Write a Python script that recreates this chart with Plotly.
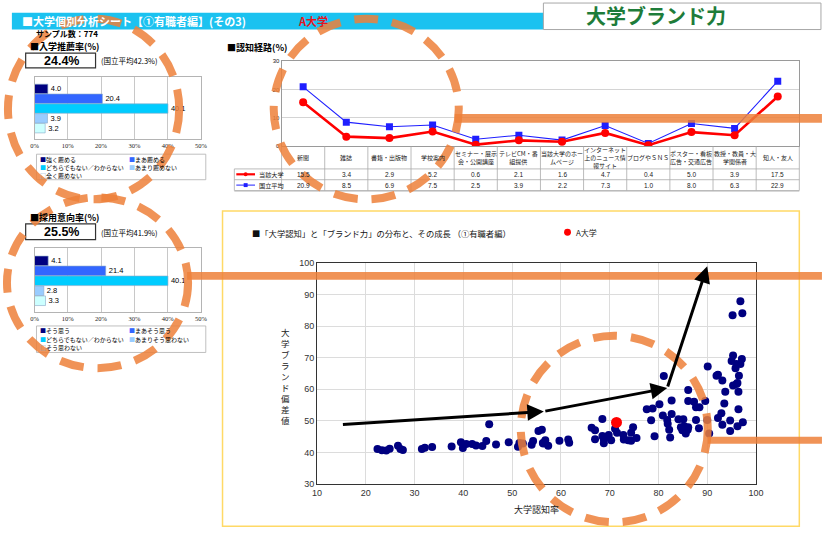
import plotly.graph_objects as go

W, H = 827, 541
def px(x): return x / W
def py(y): return 1 - y / H

FONT = "Noto Sans CJK JP"

# ---------------- data ----------------
rec_labels = ["強く薦める", "まあ薦める", "どちらでもない／わからない", "あまり薦めない", "全く薦めない"]
rec_values = [4.0, 20.4, 40.1, 3.9, 3.2]
rec_rate = "24.4%"
rec_avg = "(国立平均42.3%)"

hire_labels = ["そう思う", "まあそう思う", "どちらでもない／わからない", "あまりそう思わない", "そう思わない"]
hire_values = [4.1, 21.4, 40.1, 2.8, 3.3]
hire_rate = "25.5%"
hire_avg = "(国立平均41.9%)"

bar_pct_ticks = [0, 10, 20, 30, 40, 50]
bar_colors = ["#000080", "#3366FF", "#00CCFF", "#99CCFF", "#CCFFFF"]

route_categories = ["新聞", "雑誌", "書籍・出版物", "学校案内", "セミナー・展示<br>会・公開講座",
                    "テレビCM・番<br>組提供", "当該大学のホー<br>ムページ", "インターネット<br>上のニュース情<br>報サイト",
                    "ブログやＳＮＳ", "ポスター・看板<br>広告・交通広告", "教授・教員・大<br>学関係者", "知人・友人"]
route_univ = [15.5, 3.4, 2.9, 5.2, 0.6, 2.1, 1.6, 4.7, 0.4, 5.0, 3.9, 17.5]
route_avg = [20.9, 8.5, 6.9, 7.5, 2.5, 3.9, 2.2, 7.3, 1.0, 8.0, 6.3, 22.9]
route_series = ["当該大学", "国立平均"]

scatter_pts = [
    (22.4, 41.1), (23.3, 40.7), (24.2, 40.6), (24.9, 41.2), (26.6, 42.1), (27.1, 41.1), (27.6, 40.8),
    (31.5, 41.1), (32.1, 41.5), (33.6, 41.7), (37.6, 41.9), (39.5, 43.2), (39.9, 41.4), (40.6, 42.7),
    (41.8, 42.7), (42.6, 42.2), (43.9, 42.0), (44.7, 43.6), (45.3, 48.9), (46.7, 42.5), (49.3, 43.2),
    (51.2, 41.8), (51.5, 43.0), (52.2, 42.8), (54.0, 42.4), (54.3, 43.6), (55.4, 46.8), (56.1, 47.2),
    (56.4, 42.8), (56.8, 43.9), (56.3, 43.0), (57.4, 42.1), (59.7, 43.7), (61.5, 44.1), (61.7, 43.1),
    (66.3, 47.8), (67.0, 47.0), (67.0, 44.2), (68.5, 50.6), (68.5, 45.2), (68.8, 44.1), (68.8, 42.9),
    (69.1, 44.9), (69.8, 45.5), (70.3, 43.9), (71.1, 47.5), (71.5, 46.2), (72.8, 45.5), (72.9, 44.1),
    (73.8, 43.9), (74.4, 46.2), (74.8, 48.0), (74.4, 43.7), (75.5, 44.6), (77.6, 53.7), (78.8, 53.9),
    (78.5, 50.2), (79.2, 45.1), (80.2, 55.3), (81.1, 64.2), (80.9, 51.7), (81.8, 50.3), (81.9, 49.1),
    (82.2, 47.2), (82.4, 44.7), (82.7, 56.5), (82.7, 52.2), (84.1, 50.5), (85.1, 50.5), (84.6, 48.0),
    (84.9, 47.0), (85.3, 48.3), (85.6, 46.0), (86.0, 47.2), (86.1, 48.0), (86.1, 59.8), (86.1, 56.3),
    (87.3, 56.1), (87.7, 54.3), (87.7, 50.3), (88.3, 47.7), (88.4, 54.3), (89.6, 56.3), (90.0, 50.3),
    (90.4, 46.0), (90.1, 67.2), (91.9, 64.3), (92.2, 64.6), (93.1, 62.8), (93.7, 59.2), (93.5, 55.5),
    (92.9, 52.4), (92.2, 50.9), (93.1, 48.8), (94.7, 50.1), (94.7, 46.8), (95.2, 83.5), (96.8, 87.9),
    (97.2, 84.1), (95.3, 70.7), (95.0, 69.0), (95.8, 66.7), (97.1, 69.6), (96.8, 68.0), (96.5, 64.3),
    (96.0, 61.7), (95.3, 61.2), (96.4, 59.2), (96.4, 53.7), (96.2, 48.3), (97.3, 49.6), (96.2, 62.0),
    (96.0, 68.0),
]
scatter_x = [p[0] for p in scatter_pts]
scatter_y = [p[1] for p in scatter_pts]
a_univ_x = [71.4]
a_univ_y = [49.5]
growth_x = [15, 56.5, 81.8, 90.0]
growth_y = [48.8, 53.0, 60.4, 99.0]

# ---------------- figure ----------------
fig = go.Figure()
shapes = []
ann = []

def txt(x, y, s, size=8, color="#000", xanchor="left", yanchor="middle", xref="paper", yref="paper", bold=False, family=FONT):
    ann.append(dict(x=x, y=y, xref=xref, yref=yref, text=("<b>%s</b>" % s) if bold else s,
                    showarrow=False, xanchor=xanchor, yanchor=yanchor,
                    font=dict(size=size, color=color, family=family)))

def rect(x0, y0, x1, y1, line="#999", width=1, fill=None, dash=None):
    d = dict(type="rect", xref="paper", yref="paper", x0=px(x0), x1=px(x1), y0=py(y0), y1=py(y1),
             line=dict(color=line, width=width))
    if fill: d["fillcolor"] = fill
    if dash: d["line"]["dash"] = dash
    shapes.append(d)

def hline(x0, x1, y, color="#aaa", width=0.8):
    shapes.append(dict(type="line", xref="paper", yref="paper", x0=px(x0), x1=px(x1), y0=py(y), y1=py(y),
                       line=dict(color=color, width=width)))

def vline(x, y0, y1, color="#aaa", width=0.8):
    shapes.append(dict(type="line", xref="paper", yref="paper", x0=px(x), x1=px(x), y0=py(y0), y1=py(y1),
                       line=dict(color=color, width=width)))

# header
rect(7, 8, 548, 25, line="rgba(0,0,0,0)", width=0, fill="#1BC2F0")
txt(px(15), py(16.5), "■大学個別分析シート【①有職者編】(その3)", size=11, color="#fff", bold=True)
txt(px(313), py(16.5), "A大学", size=11, color="#E8141C", xanchor="center", bold=True)
rect(547, -2, 829, 25, line="#a8a8a8", width=1, fill="#fff")
txt(px(661), py(11), "大学ブランド力", size=20, color="#1E7C3A", xanchor="center", bold=True)

txt(px(29), py(29.5), "サンプル数：774", size=8, bold=True)

# ---- bar charts ----
def bar_block(values, labels, rate, avg, axis_id, title, title_y, box_y0, box_y1, plot_y0, plot_y1, leg_y0, leg_y1):
    xa = "x" if axis_id == 1 else "x%d" % axis_id
    ya = "y" if axis_id == 1 else "y%d" % axis_id
    fig.add_trace(go.Bar(
        x=values, y=list(range(len(values))), orientation="h", xaxis=xa, yaxis=ya,
        marker=dict(color=bar_colors, line=dict(color="#8aaac8", width=0.6)),
        text=["%.1f" % v for v in values], textposition="outside", cliponaxis=False,
        textfont=dict(size=7.5, color="#000", family="Liberation Sans"), width=0.96))
    ax_layout = dict(domain=[px(30), px(199)], range=[0, 50], tickvals=bar_pct_ticks,
                     ticktext=["%d%%" % t for t in bar_pct_ticks], showgrid=True, gridcolor="#c8c8c8",
                     gridwidth=1, showline=True, mirror=True, linecolor="#b4b4b4", zeroline=False, ticks="",
                     tickfont=dict(size=6.5, family="Liberation Serif", color="#222"), anchor=ya)
    ay_layout = dict(domain=[py(plot_y1), py(plot_y0)], range=[5.15, -1.25], showticklabels=False, showgrid=False,
                     showline=True, mirror=True, linecolor="#b4b4b4", zeroline=False, anchor=xa)
    key = "" if axis_id == 1 else str(axis_id)
    fig.update_layout(**{"xaxis" + key: ax_layout, "yaxis" + key: ay_layout})
    txt(px(23), py(title_y), "■" + title, size=9, bold=True)
    rect(21, box_y0, 92, box_y1, line="#333", width=1.2, fill="#fff")
    txt(px(57), py((box_y0 + box_y1) / 2 + 0.5), rate, size=12.5, xanchor="center", bold=True, family="Liberation Sans")
    txt(px(96), py((box_y0 + box_y1) / 2 + 0.5), avg, size=7.5)
    # legend box
    rect(32, leg_y0, 204, leg_y1, line="#b0b0b0", width=0.8, fill="rgba(255,255,255,0)")
    rows = [leg_y0 + 5, leg_y0 + 13.5, leg_y0 + 22]
    cols = [34, 124]
    for i, lab in enumerate(labels):
        r, c = divmod(i, 2)
        mark = "□" if i == 4 else "■"
        mcol = "#7fa6c6" if i == 4 else bar_colors[i]
        txt(px(cols[c]), py(rows[r]), "<span style='color:%s'>%s</span>%s" % (mcol, mark, lab), size=6)

bar_block(rec_values, rec_labels, rec_rate, rec_avg, 1, "入学推薦率(%)", 42.5, 49, 64, 73, 137, 152, 178)
bar_block(hire_values, hire_labels, hire_rate, hire_avg, 2, "採用意向率(%)", 217, 223, 239, 248, 313, 327, 354)

# ---- line chart ----
xi = list(range(len(route_categories)))
fig.add_trace(go.Scatter(x=xi, y=route_avg, mode="lines+markers", xaxis="x3", yaxis="y3",
                         line=dict(color="#1F1FFF", width=1.1), marker=dict(symbol="square", size=7, color="#1F1FFF")))
fig.add_trace(go.Scatter(x=xi, y=route_univ, mode="lines+markers", xaxis="x3", yaxis="y3",
                         line=dict(color="#FF0000", width=2.6), marker=dict(symbol="circle", size=8, color="#FF0000")))
L0, R0, T0, B0 = 281, 807, 57, 144
fig.update_layout(
    xaxis3=dict(domain=[px(L0), px(R0)], range=[-0.5, 11.5], showticklabels=False, showgrid=False,
                showline=True, mirror=True, linecolor="#9a9a9a", zeroline=False, ticks="", anchor="y3"),
    yaxis3=dict(domain=[py(B0), py(T0)], range=[0, 30], tickvals=[0, 10, 20, 30], showgrid=True,
                gridcolor="#d4d4d4", showline=True, mirror=True, linecolor="#9a9a9a", zeroline=False,
                ticks="", tickfont=dict(size=6, color="#222", family="Liberation Sans"), anchor="x3"),
)
txt(px(224), py(43), "■認知経路(%)", size=9, bold=True)
colw = (R0 - L0) / len(route_categories)
for yy in (167, 178, 189):
    hline(233, R0, yy)
hline(233, R0, 190, color="#d8d8d8", width=1.2)
vline(233, 167, 189)
for k in range(len(route_categories) + 1):
    vline(L0 + k * colw, B0, 189)
for i, cat in enumerate(route_categories):
    txt(i, py(155.5), cat, size=6, xanchor="center", xref="x3", color="#222")
    txt(i, py(172.5), "%.1f" % route_univ[i], size=6.5, xanchor="center", xref="x3", color="#222", family="Liberation Sans")
    txt(i, py(183.5), "%.1f" % route_avg[i], size=6.5, xanchor="center", xref="x3", color="#222", family="Liberation Sans")
# table legend
shapes.append(dict(type="line", xref="paper", yref="paper", x0=px(235), x1=px(254), y0=py(172.5), y1=py(172.5),
                   line=dict(color="#FF0000", width=2.2)))
shapes.append(dict(type="circle", xref="paper", yref="paper", x0=px(242.5), x1=px(246.5), y0=py(174.5), y1=py(170.5),
                   fillcolor="#FF0000", line=dict(color="#FF0000", width=0)))
shapes.append(dict(type="line", xref="paper", yref="paper", x0=px(235), x1=px(254), y0=py(183.5), y1=py(183.5),
                   line=dict(color="#1F1FFF", width=1)))
shapes.append(dict(type="rect", xref="paper", yref="paper", x0=px(242.5), x1=px(246.5), y0=py(185.5), y1=py(181.5),
                   fillcolor="#1F1FFF", line=dict(color="#1F1FFF", width=0)))
txt(px(256), py(172.5), route_series[0], size=6.2, color="#222")
txt(px(256), py(183.5), route_series[1], size=6.2, color="#222")

# ---- scatter ----
rect(221, 210, 807, 531, line="#FFD966", width=1.5)
fig.add_trace(go.Scatter(x=scatter_x, y=scatter_y, mode="markers", xaxis="x4", yaxis="y4",
                         marker=dict(size=8, color="#000080")))
fig.add_trace(go.Scatter(x=a_univ_x, y=a_univ_y, mode="markers", xaxis="x4", yaxis="y4",
                         marker=dict(size=11, color="#FF0000")))
fig.update_layout(
    xaxis4=dict(domain=[px(317), px(763)], range=[10, 100], dtick=10, showgrid=True, gridcolor="#dcdcdc",
                showline=True, mirror=True, linecolor="#333", linewidth=1, zeroline=False, ticks="",
                tickfont=dict(size=9, color="#333", family="Liberation Sans"), anchor="y4"),
    yaxis4=dict(domain=[py(488), py(263)], range=[30, 100], dtick=10, showgrid=True, gridcolor="#dcdcdc",
                showline=True, mirror=True, linecolor="#333", linewidth=1, zeroline=False, ticks="",
                tickfont=dict(size=9, color="#333", family="Liberation Sans"), anchor="x4"),
)
txt(px(249), py(232), "■「大学認知」と「ブランド力」の分布と、その成長 （①有職者編）", size=8.3, color="#111")
shapes.append(dict(type="circle", xref="paper", yref="paper", x0=px(568), x1=px(575), y0=py(235), y1=py(228),
                   fillcolor="#FF0000", line=dict(width=0)))
txt(px(578), py(231.5), "A大学", size=8, color="#222")
txt(px(285), py(378), "<br>".join(list("大学ブランド偏差値")), size=8.5, xanchor="center", color="#222")
txt(px(540), py(514), "大学認知率", size=9, xanchor="center", color="#222")
for i in range(len(growth_x) - 1):
    ann.append(dict(x=growth_x[i + 1], y=growth_y[i + 1], ax=growth_x[i], ay=growth_y[i],
                    xref="x4", yref="y4", axref="x4", ayref="y4", text="", showarrow=True,
                    arrowhead=2, arrowsize=1.1, arrowwidth=3, arrowcolor="#000", standoff=0, startstandoff=0))

# ---- orange overlay marks ----
OR = "rgba(237,128,58,0.85)"
for (cx, cy, rx, ry) in [(90, 106, 87, 92), (94, 283, 92, 87), (367, 106, 94, 92), (619, 432, 95, 95)]:
    shapes.append(dict(type="circle", xref="paper", yref="paper", x0=px(cx - rx), x1=px(cx + rx),
                       y0=py(cy + ry), y1=py(cy - ry), line=dict(color=OR, width=8, dash="24px,14px")))
rect(457, 111, 830, 120, line="rgba(0,0,0,0)", width=0, fill=OR)
rect(185, 272, 830, 280, line="rgba(0,0,0,0)", width=0, fill=OR)
rect(714, 440, 830, 447, line="rgba(0,0,0,0)", width=0, fill=OR)

fig.update_layout(width=W, height=H, margin=dict(l=0, r=0, t=0, b=0), showlegend=False,
                  paper_bgcolor="#fff", plot_bgcolor="#fff", shapes=shapes, annotations=ann,
                  font=dict(family=FONT), bargap=0.04)
fig.write_html("out.html")
